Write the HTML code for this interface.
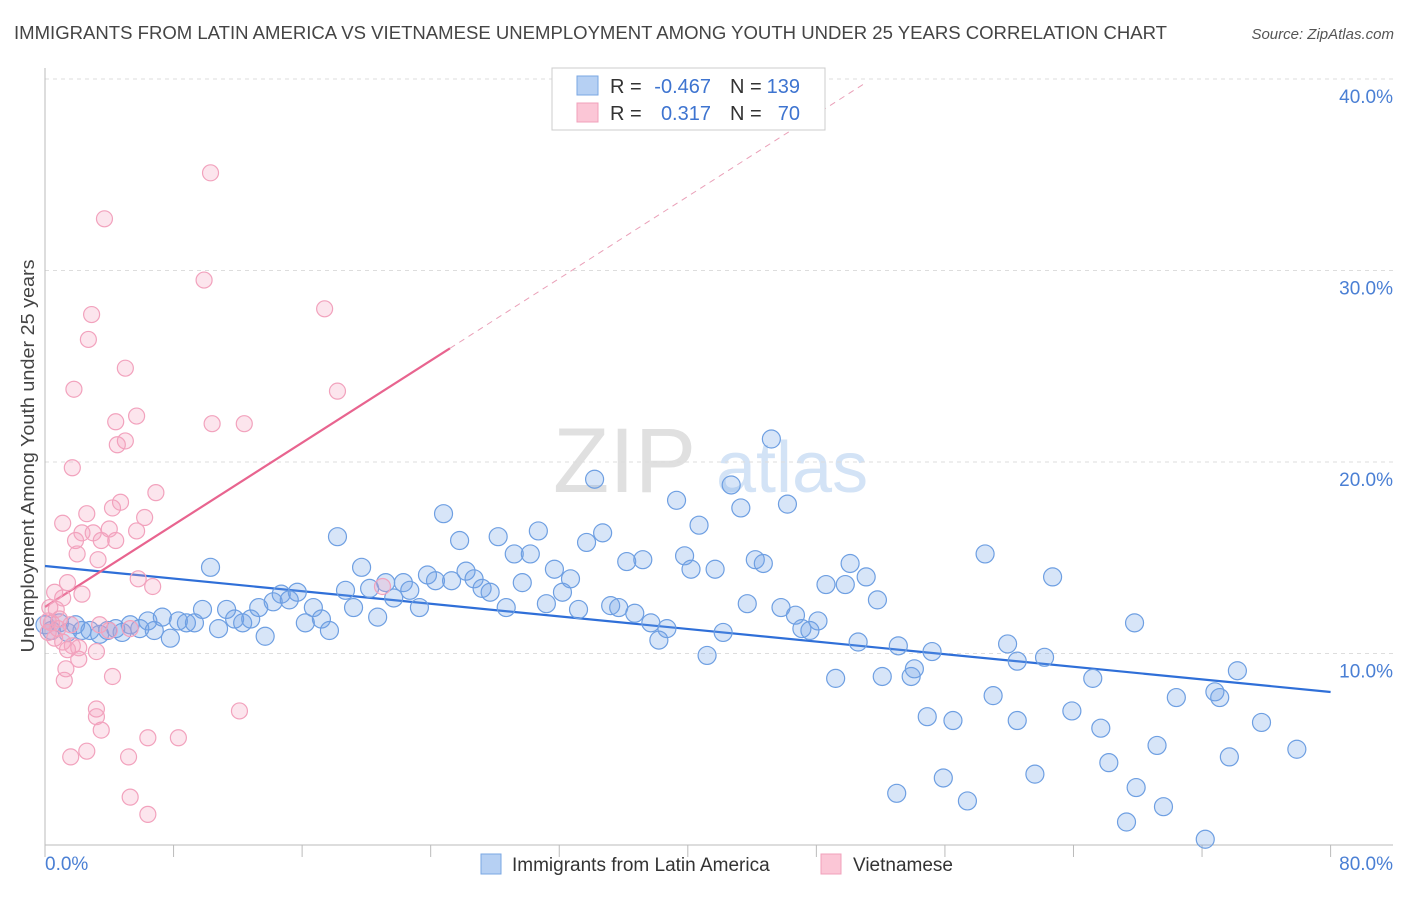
<!DOCTYPE html>
<html><head><meta charset="utf-8">
<style>
body{margin:0;background:#fff;font-family:"Liberation Sans",sans-serif;}
svg text{font-family:"Liberation Sans",sans-serif;}
</style></head>
<body>
<svg id="chart" width="1406" height="892" viewBox="0 0 1406 892">
<text x="14" y="39" font-size="18" fill="#444" textLength="1153" lengthAdjust="spacingAndGlyphs">IMMIGRANTS FROM LATIN AMERICA VS VIETNAMESE UNEMPLOYMENT AMONG YOUTH UNDER 25 YEARS CORRELATION CHART</text>
<text x="1394" y="39" font-size="15" fill="#555" font-style="italic" text-anchor="end">Source: ZipAtlas.com</text>
<text transform="translate(34,456) rotate(-90)" font-size="18" fill="#444" text-anchor="middle" textLength="393" lengthAdjust="spacingAndGlyphs">Unemployment Among Youth under 25 years</text>
<g>
<text x="553" y="492" font-size="92" fill="#e0e0e0" font-family="Liberation Serif,serif">ZIP</text>
<text x="716" y="492" font-size="72" fill="#d3e3f6">atlas</text>
</g>
<g id="grid"></g>
<g id="axes"></g>
<g id="lines"></g>
<g id="pts"></g>
<g>
<rect x="552" y="68" width="273" height="62" fill="#fff" stroke="#ccc"/>
<rect x="577" y="76" width="21" height="19" fill="#b6d0f3" stroke="#7aa7e3"/>
<rect x="577" y="103" width="21" height="19" fill="#fbc6d6" stroke="#f0a0bb"/>
<text x="610" y="93" font-size="20" fill="#333">R =</text>
<text x="711" y="93" font-size="20" fill="#3e74d0" text-anchor="end">-0.467</text>
<text x="730" y="93" font-size="20" fill="#333">N =</text>
<text x="800" y="93" font-size="20" fill="#3e74d0" text-anchor="end">139</text>
<text x="610" y="120" font-size="20" fill="#333">R =</text>
<text x="711" y="120" font-size="20" fill="#3e74d0" text-anchor="end">0.317</text>
<text x="730" y="120" font-size="20" fill="#333">N =</text>
<text x="800" y="120" font-size="20" fill="#3e74d0" text-anchor="end">70</text>
</g>
<g>
<rect x="481" y="854" width="20" height="20" fill="#b6d0f3" stroke="#7aa7e3"/>
<text x="512" y="871" font-size="19" fill="#333">Immigrants from Latin America</text>
<rect x="821" y="854" width="20" height="20" fill="#fbc6d6" stroke="#f0a0bb"/>
<text x="853" y="871" font-size="19" fill="#333">Vietnamese</text>
</g>
</svg>
<script>
const yTicks=[10,20,30,40];
const yTickLabels=["10.0%","20.0%","30.0%","40.0%"];
const xTicks=[0,8,16,24,32,40,48,56,64,72,80];
const xEndLabels=["0.0%","80.0%"];
const blueX=[0.0,0.4,0.9,1.4,1.9,2.3,2.8,3.4,3.9,4.4,4.8,5.3,5.9,6.4,6.8,7.3,7.8,8.3,8.8,9.3,9.8,10.3,10.8,11.3,11.8,12.3,12.8,13.3,13.7,14.2,14.7,15.2,15.7,16.2,16.7,17.2,17.7,18.2,18.7,19.2,19.7,20.2,20.7,21.2,21.7,22.3,22.7,23.3,23.8,24.3,24.8,25.3,25.8,26.2,26.7,27.2,27.7,28.2,28.7,29.2,29.7,30.2,30.7,31.2,31.7,32.2,32.7,33.2,33.7,34.2,34.7,35.2,35.7,36.2,36.7,37.2,37.7,38.2,38.7,39.3,39.8,40.2,40.7,41.2,41.7,42.2,42.7,43.3,43.7,44.2,44.7,45.2,45.8,46.2,46.7,47.1,47.6,48.1,48.6,49.2,49.8,50.1,50.6,51.1,51.8,52.1,53.0,53.1,53.9,54.1,54.9,55.2,55.9,56.5,57.4,58.5,59.0,59.9,60.5,60.5,61.6,62.2,62.7,63.9,65.2,65.7,66.2,67.3,67.8,67.9,69.2,69.6,70.4,72.2,72.8,73.1,73.7,74.2,75.7,77.9];
const blueY=[11.5,11.2,11.6,11.1,11.5,11.2,11.2,11.0,11.2,11.3,11.1,11.5,11.3,11.7,11.2,11.9,10.8,11.7,11.6,11.6,12.3,14.5,11.3,12.3,11.8,11.6,11.8,12.4,10.9,12.7,13.1,12.8,13.2,11.6,12.4,11.8,11.2,16.1,13.3,12.4,14.5,13.4,11.9,13.7,12.9,13.7,13.3,12.4,14.1,13.8,17.3,13.8,15.9,14.3,13.9,13.4,13.2,16.1,12.4,15.2,13.7,15.2,16.4,12.6,14.4,13.2,13.9,12.3,15.8,19.1,16.3,12.5,12.4,14.8,12.1,14.9,11.6,10.7,11.3,18.0,15.1,14.4,16.7,9.9,14.4,11.1,18.8,17.6,12.6,14.9,14.7,21.2,12.4,17.8,12.0,11.3,11.2,11.7,13.6,8.7,13.6,14.7,10.6,14.0,12.8,8.8,2.7,10.4,8.8,9.2,6.7,10.1,3.5,6.5,2.3,15.2,7.8,10.5,6.5,9.6,3.7,9.8,14.0,7.0,8.7,6.1,4.3,1.2,11.6,3.0,5.2,2.0,7.7,0.3,8.0,7.7,4.6,9.1,6.4,5.0];
const pinkX=[10.3,3.7,9.9,17.4,2.9,2.7,5.0,1.8,18.2,5.7,4.4,10.4,12.4,5.0,4.5,1.7,6.9,4.7,4.2,2.6,6.2,1.1,5.7,4.0,2.3,3.0,4.4,3.5,1.9,2.0,3.3,5.8,1.4,6.7,0.6,2.3,1.1,0.7,0.3,0.9,0.4,1.6,0.8,0.2,0.6,1.1,1.7,2.1,1.4,3.2,2.1,1.3,4.2,1.2,3.2,3.2,12.1,3.5,6.4,8.3,2.6,1.6,5.2,5.3,6.4,21.0,3.4,5.3,4.0,0.2];
const pinkY=[35.1,32.7,29.5,28.0,27.7,26.4,24.9,23.8,23.7,22.4,22.1,22.0,22.0,21.1,20.9,19.7,18.4,17.9,17.6,17.3,17.1,16.8,16.4,16.5,16.3,16.3,15.9,15.9,15.9,15.2,14.9,13.9,13.7,13.5,13.2,13.1,12.9,12.3,12.4,11.8,11.6,11.5,11.3,11.1,10.8,10.6,10.4,10.3,10.2,10.1,9.7,9.2,8.8,8.6,7.1,6.7,7.0,6.0,5.6,5.6,4.9,4.6,4.6,2.5,1.6,13.5,11.5,11.3,11.2,11.7];
const blueTrend=[14.57,7.99];
const pinkTrend=[12.43,0.536];
const NS="http://www.w3.org/2000/svg";
const X=v=>45+v*16.07, Y=v=>845-v*19.15;
function mk(tag,at,parent){const e=document.createElementNS(NS,tag);for(const k in at)e.setAttribute(k,at[k]);document.getElementById(parent).appendChild(e);return e;}
yTicks.forEach((t,i)=>{
 const g=mk('line',{x1:45,x2:1393,y1:Y(t),y2:Y(t),stroke:'#ddd','stroke-dasharray':'4,4'},'grid');
 
 
 const l=mk('text',{x:1393,y:Y(t)+24,'font-size':19,fill:'#4a7fd4','text-anchor':'end'},'axes');
 l.textContent=yTickLabels[i];
 
 
});
const ax=mk('line',{x1:45,x2:1393,y1:845,y2:845,stroke:'#bbb'},'axes');


const ay=mk('line',{x1:45,x2:45,y1:68,y2:845,stroke:'#bbb'},'axes');


xTicks.forEach(t=>{const k=mk('line',{x1:X(t),x2:X(t),y1:845,y2:857,stroke:'#bbb'},'axes');
 
 });
const xl0=mk('text',{x:45,y:870,'font-size':19,fill:'#4a7fd4'},'axes');xl0.textContent=xEndLabels[0];


const xl1=mk('text',{x:1393,y:870,'font-size':19,fill:'#4a7fd4','text-anchor':'end'},'axes');xl1.textContent=xEndLabels[1];


blueX.forEach((x,i)=>{const c=mk('circle',{cx:X(x),cy:Y(blueY[i]),r:9,fill:'rgba(110,160,230,0.28)',stroke:'#6e9fe2','stroke-width':1.2},'pts');
 
 });
pinkX.forEach((x,i)=>{const c=mk('circle',{cx:X(x),cy:Y(pinkY[i]),r:8,fill:'rgba(245,160,190,0.28)',stroke:'#f2a2bd','stroke-width':1.2},'pts');
 
 });
const bl=mk('line',{x1:X(0),y1:Y(blueTrend[0]),x2:X(80),y2:Y(blueTrend[1]),stroke:'#2f6fd8','stroke-width':2.2},'lines');


const pf=v=>pinkTrend[0]+pinkTrend[1]*v;
const pl=mk('line',{x1:X(0),y1:Y(pf(0)),x2:X(25.2),y2:Y(pf(25.2)),stroke:'#e8648f','stroke-width':2.2},'lines');


const pd=mk('line',{x1:X(25.2),y1:Y(pf(25.2)),x2:X(51),y2:Y(pf(51)),stroke:'#eaa0b8','stroke-width':1,'stroke-dasharray':'6,5'},'lines');


</script>
</body></html>
